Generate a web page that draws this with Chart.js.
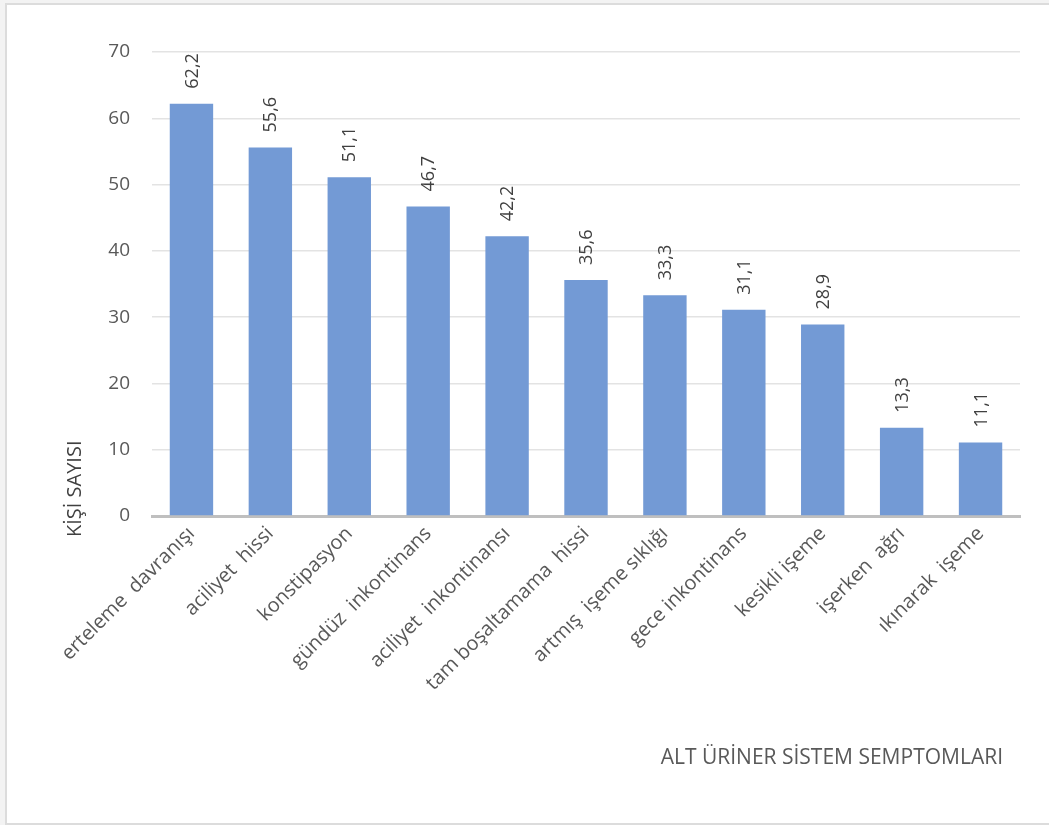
<!DOCTYPE html>
<html>
<head>
<meta charset="utf-8">
<script src="https://cdn.jsdelivr.net/npm/chart.js@4/dist/chart.umd.min.js"></script>
<style>
  html, body { margin: 0; padding: 0; background: #f3f3f3; }
  #wrap { position: absolute; left: 0; top: 0; width: 1049px; height: 825px; overflow: hidden; }
  #frame { position: absolute; left: 5px; top: 3px; width: 1060px; height: 818px; border: 2px solid #dcdcdc; background: #ffffff; }
  canvas { position: absolute; left: 0; top: 0; }
</style>
</head>
<body>
<div id="wrap">
  <div id="frame"></div>
  <canvas id="c" width="1049" height="825"></canvas>
</div>
<script>
const categories = [
  "erteleme  davranışı", "aciliyet  hissi", "konstipasyon", "gündüz  inkontinans",
  "aciliyet  inkontinansı", "tam boşaltamama  hissi", "artmış  işeme sıklığı",
  "gece inkontinans", "kesikli işeme", "işerken  ağrı", "ıkınarak  işeme"
];
const values = [62.2, 55.6, 51.1, 46.7, 42.2, 35.6, 33.3, 31.1, 28.9, 13.3, 11.1];
const yTicks = [0, 10, 20, 30, 40, 50, 60, 70];
const yTitle = "KİŞİ SAYISI";
const xTitle = "ALT ÜRİNER SİSTEM SEMPTOMLARI";

const FONT = "'Open Sans', 'Noto Sans', sans-serif";

const labelsPlugin = {
  id: 'extras',
  afterDatasetsDraw(chart) {
    const ctx = chart.ctx;
    const meta = chart.getDatasetMeta(0);
    ctx.save();
    ctx.fillStyle = '#404040';
    ctx.font = "18px " + FONT;
    ctx.textAlign = 'left';
    ctx.textBaseline = 'middle';
    meta.data.forEach((bar, i) => {
      ctx.save();
      ctx.translate(bar.x + 1, bar.y - 15);
      ctx.rotate(-Math.PI / 2);
      ctx.fillText(values[i].toFixed(1).replace('.', ','), 0, 0);
      ctx.restore();
    });
    // axis titles
    const area = chart.chartArea;
    ctx.fillStyle = '#404040';
    ctx.font = "20px " + FONT;
    ctx.save();
    ctx.translate(75, area.bottom + 21);
    ctx.rotate(-Math.PI / 2);
    ctx.textAlign = 'left';
    ctx.fillText(yTitle, 0, 0);
    ctx.restore();
    ctx.fillStyle = '#595959';
    ctx.font = "21px " + FONT;
    ctx.textAlign = 'right';
    ctx.fillText(xTitle, area.right - 17, area.bottom + 242);
    ctx.restore();
  }
};

new Chart(document.getElementById('c'), {
  type: 'bar',
  data: {
    labels: categories,
    datasets: [{
      data: values,
      backgroundColor: '#739ad5',
      borderWidth: 0,
      barPercentage: 0.55,
      categoryPercentage: 1.0
    }]
  },
  options: {
    responsive: false,
    animation: false,
    devicePixelRatio: 1,
    layout: { padding: { left: 0, right: 29, top: 52, bottom: 0 } },
    plugins: { legend: { display: false }, tooltip: { enabled: false } },
    scales: {
      x: {
        grid: { display: false, drawTicks: false },
        border: { display: true, color: '#bfbfbf', width: 3 },
        ticks: {
          autoSkip: false, minRotation: 45, maxRotation: 45,
          color: '#595959', font: { family: FONT, size: 20 }, padding: 6
        },
        afterFit(scale) { scale.height = 825 - 52 - 464; }
      },
      y: {
        min: 0, max: 70,
        afterBuildTicks(scale) { scale.ticks = yTicks.map(v => ({ value: v })); },
        grid: { color: '#e3e3e3', lineWidth: 1.5, drawTicks: false },
        border: { display: false },
        ticks: { color: '#595959', font: { family: FONT, size: 19 }, padding: 22 },
        afterFit(scale) { scale.width = 152; }
      }
    }
  },
  plugins: [labelsPlugin]
});
</script>
</body>
</html>
